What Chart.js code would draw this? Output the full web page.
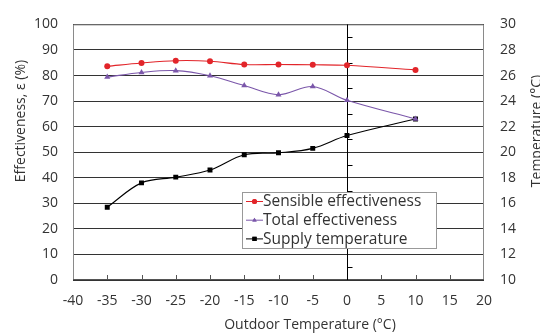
<!DOCTYPE html>
<html><head><meta charset="utf-8">
<script src="https://cdn.jsdelivr.net/npm/chart.js@4/dist/chart.umd.min.js"></script>
<style>html,body{margin:0;padding:0;background:#fff;}#wrap{position:relative;width:540px;height:335px;}</style>
</head><body><div id="wrap"><canvas id="c" width="540" height="335"></canvas></div>
<script>
const outdoorTemp = [-35, -30, -25, -20, -15, -10, -5, 0, 10];
const sensibleEff = [83.6, 84.9, 85.8, 85.6, 84.3, 84.3, 84.2, 84.0, 82.2];
const totalEff = [79.4, 81.2, 81.9, 79.9, 76.1, 72.5, 75.7, 70.3, 63.0];
const supplyTemp = [15.7, 17.6, 18.05, 18.6, 19.8, 19.95, 20.3, 21.3, 22.6];
const xTicks = {min: -40, max: 20, step: 5};
const yTicks = {min: 0, max: 100, step: 10};
const y2Ticks = {min: 10, max: 30, step: 2};
const seriesNames = ['Sensible effectiveness', 'Total effectiveness', 'Supply temperature'];

const FONT = '"Open Sans", Lato, sans-serif';
const FS = 14;
const TXT = '#333';
const RED = '#e2252a', PURPLE = '#7b57aa', BLACK = '#000';

function pts(ys){ return outdoorTemp.map((x,i)=>({x, y: ys[i]})); }

const decor = {
  id: 'decor',
  beforeDatasetsDraw(chart){
    const ctx = chart.ctx, xs = chart.scales.x, ys = chart.scales.y, a = chart.chartArea;
    ctx.save();
    ctx.strokeStyle = '#8a8a8a'; ctx.lineWidth = 1;
    ctx.beginPath();
    ctx.moveTo(a.left+0.5, a.bottom); ctx.lineTo(a.left+0.5, a.top+0.5);
    ctx.lineTo(a.right-0.5, a.top+0.5); ctx.lineTo(a.right-0.5, a.bottom);
    ctx.stroke();
    ctx.strokeStyle = '#555';
    ctx.beginPath(); ctx.moveTo(a.left, a.bottom-0.5); ctx.lineTo(a.right, a.bottom-0.5); ctx.stroke();
    for (let v = xTicks.min + xTicks.step; v < xTicks.max; v += xTicks.step){
      const px = Math.round(xs.getPixelForValue(v)) + 0.5;
      ctx.beginPath(); ctx.moveTo(px, a.bottom); ctx.lineTo(px, a.bottom-5); ctx.stroke();
    }
    const p0 = Math.round(xs.getPixelForValue(0)) + 0.5;
    ctx.strokeStyle = '#000';
    ctx.beginPath(); ctx.moveTo(p0, a.top); ctx.lineTo(p0, a.bottom); ctx.stroke();
    for (let v = yTicks.min + 5; v < yTicks.max; v += 10){
      const py = Math.round(ys.getPixelForValue(v)) + 0.5;
      ctx.beginPath(); ctx.moveTo(p0, py); ctx.lineTo(p0+5, py); ctx.stroke();
    }
    ctx.restore();
  },
  afterDraw(chart){
    const ctx = chart.ctx;
    ctx.save();
    ctx.fillStyle = TXT;
    ctx.font = FS + 'px ' + FONT;
    ctx.textAlign = 'center'; ctx.textBaseline = 'middle';
    ctx.fillText('Outdoor Temperature (°C)', 310, 325);
    ctx.save(); ctx.translate(21, 121); ctx.rotate(-Math.PI/2);
    ctx.fillText('Effectiveness, ε (%)', 0, 0); ctx.restore();
    ctx.save(); ctx.translate(537, 131); ctx.rotate(-Math.PI/2);
    ctx.fillText('Temperature (°C)', 0, 0); ctx.restore();
    // legend
    const lx = 242, ly = 192, lw = 194, lh = 56;
    ctx.fillStyle = '#fff'; ctx.fillRect(lx, ly, lw, lh);
    ctx.strokeStyle = '#999'; ctx.lineWidth = 1;
    ctx.strokeRect(lx+0.5, ly+0.5, lw, lh);
    const cols = [RED, PURPLE, BLACK];
    const shapes = ['circle', 'triangle', 'rect'];
    for (let i = 0; i < 3; i++){
      const cy = ly + 9.5 + i*18.7;
      ctx.strokeStyle = cols[i]; ctx.lineWidth = 1;
      ctx.beginPath(); ctx.moveTo(246, cy); ctx.lineTo(263, cy); ctx.stroke();
      ctx.fillStyle = cols[i];
      Chart.helpers.drawPoint(ctx, {pointStyle: shapes[i], radius: i==2?3:2.5, borderWidth: 0}, 254.5, cy);
      ctx.fill();
      ctx.fillStyle = TXT; ctx.textAlign = 'left';
      ctx.font = '15.5px ' + FONT;
      ctx.fillText(seriesNames[i], 263, cy+0.5);
    }
    ctx.restore();
  }
};

new Chart(document.getElementById('c'), {
  type: 'line',
  data: { datasets: [
    {label: seriesNames[0], data: pts(sensibleEff), borderColor: RED, backgroundColor: RED, borderWidth: 1.1,
     pointStyle: 'circle', pointRadius: 3, pointBorderWidth: 0, tension: 0.35, yAxisID: 'y'},
    {label: seriesNames[1], data: pts(totalEff), borderColor: PURPLE, backgroundColor: PURPLE, borderWidth: 1.1,
     pointStyle: 'triangle', pointRadius: 3.5, pointBorderWidth: 0, tension: 0.35, yAxisID: 'y'},
    {label: seriesNames[2], data: pts(supplyTemp), borderColor: BLACK, backgroundColor: BLACK, borderWidth: 1.1,
     pointStyle: 'rect', pointRadius: 3.5, pointBorderWidth: 0, tension: 0.35, yAxisID: 'y1'}
  ]},
  options: {
    responsive: false, animation: false, devicePixelRatio: 1,
    layout: {padding: {top: 14, left: 0, right: 0, bottom: 0}},
    plugins: {legend: {display: false}, tooltip: {enabled: false}},
    scales: {
      x: {type: 'linear', min: xTicks.min, max: xTicks.max,
          ticks: {stepSize: xTicks.step, color: TXT, font: {family: FONT, size: FS}, padding: 13, maxRotation: 0},
          grid: {display: false, drawTicks: false}, border: {display: false},
          afterFit(s){ s.height = 55; }},
      y: {position: 'left', min: yTicks.min, max: yTicks.max,
          ticks: {stepSize: yTicks.step, color: TXT, font: {family: FONT, size: FS}, padding: 15},
          grid: {color: '#333', drawTicks: false, lineWidth: 1}, border: {display: false},
          afterFit(s){ s.width = 73; }},
      y1: {position: 'right', min: y2Ticks.min, max: y2Ticks.max,
          ticks: {stepSize: y2Ticks.step, color: TXT, font: {family: FONT, size: FS}, padding: 16},
          grid: {display: false, drawTicks: false}, border: {display: false},
          afterFit(s){ s.width = 56; }}
    }
  },
  plugins: [decor]
});
</script></body></html>
